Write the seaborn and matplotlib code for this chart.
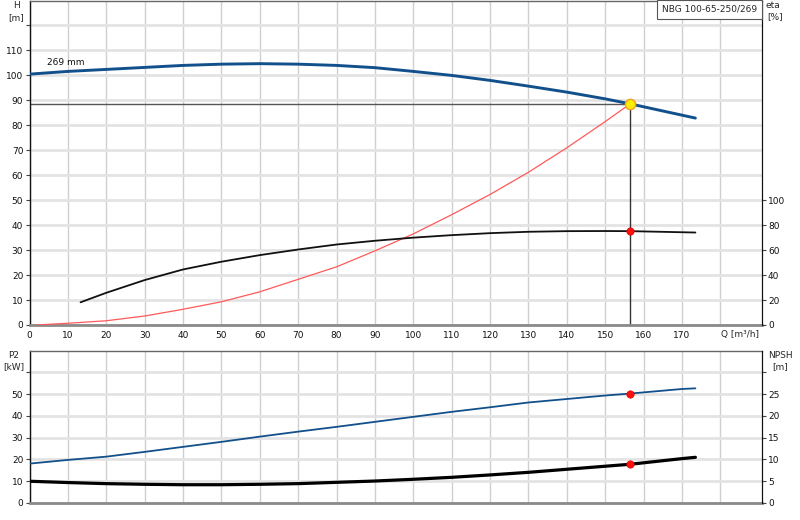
import matplotlib
matplotlib.use("Agg")
import matplotlib.pyplot as plt
from matplotlib.patches import Rectangle
import seaborn as sns

# pump curve H(Q), m
q_head = [0, 10, 20, 30, 40, 50, 60, 70, 80, 90, 100, 110, 120, 130, 140, 150, 156.5, 173.5]
head = [100.5, 101.6, 102.4, 103.2, 104.0, 104.5, 104.7, 104.5, 104.0, 103.1, 101.6, 100.0,
        98.0, 95.7, 93.3, 90.6, 88.6, 82.9]

# efficiency eta(Q), %
q_eta = [13.3, 20, 30, 40, 50, 60, 70, 80, 90, 100, 110, 120, 130, 140, 150, 156.5, 173.5]
eta = [18.2, 25.8, 36.0, 44.5, 50.7, 56.0, 60.5, 64.5, 67.5, 70.0, 72.0, 73.6, 74.7, 75.2,
       75.3, 75.2, 74.1]

# system curve, m
q_sys = [1.5, 10, 20, 30, 40, 50, 60, 70, 80, 90, 100, 110, 120, 130, 140, 150, 156.5]
h_sys = [0, 0.7, 1.7, 3.6, 6.3, 9.3, 13.3, 18.3, 23.3, 29.7, 36.5, 44.2, 52.3, 61.2, 71.0,
         81.5, 88.6]

# power P2 and NPSH
q_low = [0, 10, 20, 30, 40, 50, 60, 70, 80, 90, 100, 110, 120, 130, 140, 150, 156.5, 170, 173.5]
p2 = [18.1, 19.8, 21.3, 23.5, 25.8, 28.1, 30.5, 32.8, 35.0, 37.3, 39.6, 41.9, 44.0, 46.2,
      47.8, 49.4, 50.3, 52.4, 52.7]
npsh = [5.0, 4.7, 4.45, 4.3, 4.2, 4.2, 4.3, 4.45, 4.75, 5.05, 5.45, 5.9, 6.45, 7.05, 7.75,
        8.45, 8.9, 10.2, 10.5]

# duty point
q_duty = 156.5
h_duty = 88.6
eta_duty = 75.2
p2_duty = 50.3
npsh_duty = 8.9

x_ticks = list(range(0, 190, 10))
x_labels = [str(v) for v in x_ticks[:-1]] + [""]

sns.set_style("white")
plt.rcParams["font.family"] = ["DejaVu Sans"]
plt.rcParams["font.size"] = 6.5

BLUE = "#12508c"
GRID_Y = "#e3e3e3"
GRID_X = "#cfcfcf"
FS = 6.5


def style_axes(ax):
    ax.set_axisbelow(True)
    ax.grid(axis="y", color=GRID_Y, lw=2)
    ax.grid(axis="x", color=GRID_X, lw=1)
    ax.spines["left"].set_color("#111111")
    ax.spines["left"].set_linewidth(1)
    ax.spines["right"].set_color("#111111")
    ax.spines["bottom"].set_color("#8a8a8a")
    ax.spines["bottom"].set_linewidth(2)
    ax.spines["top"].set_color("#666666")
    ax.spines["top"].set_linewidth(1)
    ax.tick_params(axis="both", direction="out", length=3, width=0.8, color="#444444",
                   labelsize=FS, pad=1.5, labelcolor="#111111")


def style_twin(axt):
    for s in ["top", "bottom", "left"]:
        axt.spines[s].set_visible(False)
    axt.spines["right"].set_color("#111111")
    axt.tick_params(axis="y", direction="out", length=3, width=0.8, color="#444444",
                    labelsize=FS, pad=1.5, labelcolor="#111111")


fig = plt.figure(figsize=(8, 5.2), dpi=100)

# ---- upper panel: H and eta
ax = fig.add_axes([29.5 / 800, 0.375, 732.3 / 800, 0.624])
style_axes(ax)
ax.set_xlim(0, 190.8)
ax.set_ylim(0, 130)
ax.set_xticks(x_ticks)
ax.set_xticklabels(x_labels)
ax.set_yticks(range(0, 130, 10))
ax.set_yticklabels([str(v) for v in range(0, 120, 10)] + [""])

ax.hlines(h_duty, 0, q_duty, color="#555555", lw=1, zorder=2)
ax.vlines(q_duty, 0, h_duty, color="#333333", lw=1, zorder=2)

sns.lineplot(x=q_head, y=head, ax=ax, color=BLUE, lw=2.1, sort=False, zorder=4)
sns.lineplot(x=q_sys, y=h_sys, ax=ax, color="#ff5a5a", lw=0.9, sort=False, zorder=3)
ax.text(4.5, 105.3, "269 mm", fontsize=FS, va="center", ha="left", color="#111111")
ax.set_ylabel("")
ax.set_xlabel("")

ax_eta = ax.twinx()
style_twin(ax_eta)
ax_eta.set_ylim(0, 260)
ax_eta.set_yticks(range(0, 120, 20))
sns.lineplot(x=q_eta, y=eta, ax=ax_eta, color="#111111", lw=1.3, sort=False)
sns.scatterplot(x=[q_duty], y=[eta_duty], ax=ax_eta, color="#ff1010", s=28,
                edgecolor="#dd0000", linewidth=0.5, zorder=6)
sns.scatterplot(x=[q_duty], y=[h_duty * 2], ax=ax_eta, color="#ffee00", s=55,
                edgecolor="#f0a020", linewidth=1.0, zorder=7)
ax_eta.set_xlim(0, 190.8)
ax_eta.set_ylabel("")

# ---- lower panel: P2 and NPSH
ax2 = fig.add_axes([29.5 / 800, 17 / 520, 732.3 / 800, 152.3 / 520])
style_axes(ax2)
ax2.set_xlim(0, 190.8)
ax2.set_ylim(0, 70)
ax2.set_xticks(x_ticks)
ax2.tick_params(axis="x", length=0, labelbottom=False)
ax2.set_yticks(range(0, 70, 10))
ax2.set_yticklabels([str(v) for v in range(0, 60, 10)] + [""])
sns.lineplot(x=q_low, y=p2, ax=ax2, color=BLUE, lw=1.3, sort=False, zorder=4)
sns.scatterplot(x=[q_duty], y=[p2_duty], ax=ax2, color="#ff1010", s=28,
                edgecolor="#dd0000", linewidth=0.5, zorder=6)
ax2.set_ylabel("")
ax2.set_xlabel("")

ax_npsh = ax2.twinx()
style_twin(ax_npsh)
ax_npsh.set_ylim(0, 35)
ax_npsh.set_yticks(range(0, 35, 5))
ax_npsh.set_yticklabels([str(v) for v in range(0, 30, 5)] + [""])
sns.lineplot(x=q_low, y=npsh, ax=ax_npsh, color="#000000", lw=2.3, sort=False)
sns.scatterplot(x=[q_duty], y=[npsh_duty], ax=ax_npsh, color="#ff1010", s=28,
                edgecolor="#dd0000", linewidth=0.5, zorder=6)
ax_npsh.set_xlim(0, 190.8)
ax_npsh.set_ylabel("")


# ---- axis titles and labels
def px(x, y):
    return x / 800, 1 - y / 520


fig.text(*px(16, 6), "H", ha="center", va="center", fontsize=FS)
fig.text(*px(16, 17.5), "[m]", ha="center", va="center", fontsize=FS)
fig.text(*px(773, 5), "eta", ha="center", va="center", fontsize=FS)
fig.text(*px(775, 17), "[%]", ha="center", va="center", fontsize=FS)
fig.text(*px(14, 356), "P2", ha="center", va="center", fontsize=FS)
fig.text(*px(14, 367), "[kW]", ha="center", va="center", fontsize=FS)
fig.text(*px(780, 356), "NPSH", ha="center", va="center", fontsize=FS)
fig.text(*px(780, 367), "[m]", ha="center", va="center", fontsize=FS)
fig.text(*px(721, 334.5), "Q [m³/h]", ha="left", va="center", fontsize=FS)

x0, y0 = px(657.3, 19)
fig.patches.append(Rectangle((x0, y0), (762 - 657.3) / 800, 19 / 520,
                             transform=fig.transFigure, fc="white", ec="#555555", lw=0.8,
                             zorder=10))
fig.text(*px(709.7, 8.5), "NBG 100-65-250/269", ha="center", va="center", fontsize=FS,
         zorder=11)

fig.savefig("out.png", dpi=100)
